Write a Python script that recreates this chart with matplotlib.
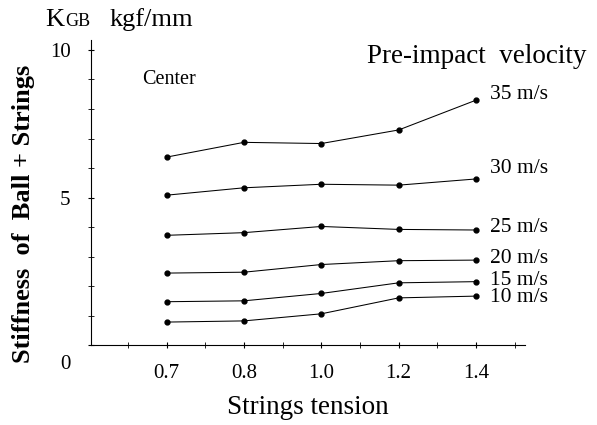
import matplotlib.pyplot as plt
import matplotlib.transforms as mtransforms

# strings tension categories (drawn at equal spacing as in the original figure)
tension = ["0.7", "0.8", "1.0", "1.2", "1.4"]
pos = [1, 2, 3, 4, 5]

# stiffness K_GB (kgf/mm) per pre-impact velocity
v35 = [6.37, 6.87, 6.83, 7.29, 8.30]
v30 = [5.08, 5.33, 5.45, 5.42, 5.63]
v25 = [3.72, 3.81, 4.02, 3.92, 3.90]
v20 = [2.44, 2.47, 2.73, 2.86, 2.88]
v15 = [1.47, 1.50, 1.75, 2.11, 2.15]
v10 = [0.78, 0.82, 1.06, 1.60, 1.66]

series = [v35, v30, v25, v20, v15, v10]
labels = ["35 m/s", "30 m/s", "25 m/s", "20 m/s", "15 m/s", "10 m/s"]
label_dy = [0.2, 0.35, 0.1, 0.05, 0.05, -0.05]

serif = "Liberation Serif"

fig = plt.figure(figsize=(5.97, 4.25), dpi=100)
ax = fig.add_axes([0.152, 0.188, 0.727, 0.718])

for ys, lab, dy in zip(series, labels, label_dy):
    ax.plot(pos, ys, color="black", lw=0.75, marker="o", ms=3.5)
    ax.text(pos[-1] + 0.18, ys[-1] + dy, lab, fontsize=15.5, family=serif,
            va="center", ha="left")

ax.set_xlim(0.02, 5.63)
ax.set_ylim(0, 10.34)
ax.spines["top"].set_visible(False)
ax.spines["right"].set_visible(False)

ax.set_xticks(pos)
ax.set_xticklabels(tension, family=serif, fontsize=15)
ax.set_xticks([0.5, 1.5, 2.5, 3.5, 4.5, 5.5], minor=True)
ax.tick_params(axis="x", which="major", direction="inout", length=5, pad=11)
ax.tick_params(axis="x", which="minor", direction="inout", length=5)

ax.set_yticks([0, 5, 10])
ax.set_yticklabels(["0", "5", "10"], family=serif, fontsize=15)
ax.set_yticks(range(1, 10), minor=True)
ax.tick_params(axis="y", which="major", direction="inout", length=5, pad=12)
ax.tick_params(axis="y", which="minor", direction="inout", length=5)
zero = ax.get_yticklabels()[0]
zero.set_transform(zero.get_transform() +
                   mtransforms.ScaledTranslation(0, -0.17, fig.dpi_scale_trans))

fig.text(0.515, 0.042, "Strings tension", family=serif, fontsize=19.5,
         ha="center", va="center")
fig.text(0.04, 0.497, "Stiffness  of  Ball + Strings", family=serif,
         fontsize=19, fontweight="bold", rotation=90, ha="center", va="center")

fig.text(0.075, 0.953, "K", family=serif, fontsize=19, va="center")
fig.text(0.109, 0.950, "GB", family=serif, fontsize=13, va="center")
fig.text(0.183, 0.953, "kgf/mm", family=serif, fontsize=19, va="center")
fig.text(0.983, 0.868, "Pre-impact  velocity", family=serif, fontsize=19.5,
         va="center", ha="right")
ax.text(0.68, 9.0, "Center", fontsize=14.5, family=serif, va="center")

fig.savefig("out.png", dpi=100)
